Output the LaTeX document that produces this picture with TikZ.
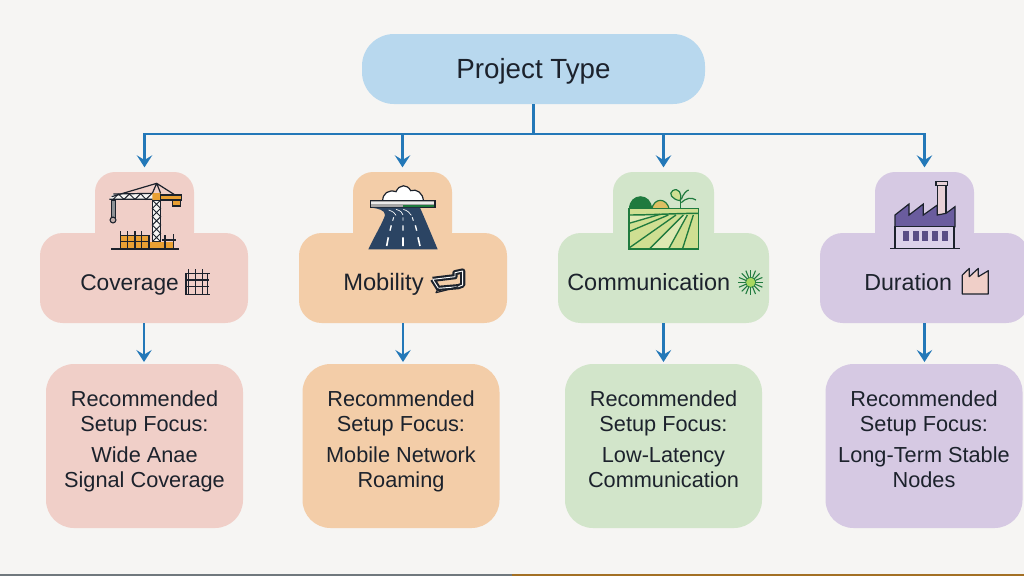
\documentclass[tikz,border=0pt]{standalone}
\usepackage{fontspec}
\setmainfont{Liberation Sans}
\definecolor{bgc}{HTML}{F6F5F3}
\definecolor{rootc}{HTML}{B8D8EE}
\definecolor{linec}{HTML}{2378B8}
\definecolor{pinkc}{HTML}{F0CFC8}
\definecolor{orc}{HTML}{F3CDA8}
\definecolor{grc}{HTML}{D2E5CA}
\definecolor{puc}{HTML}{D6C9E3}
\definecolor{ink}{HTML}{1C222C}
\definecolor{craneo}{HTML}{E9A033}
\definecolor{roadc}{HTML}{2B4463}
\definecolor{fieldd}{HTML}{1F7A3E}
\definecolor{fieldl}{HTML}{CFDF92}
\definecolor{sunc}{HTML}{A8D860}
\definecolor{facd}{HTML}{6A5C9E}
\definecolor{facl}{HTML}{DCD2EA}
\tikzset{
  rootbox/.style={draw=none,fill=rootc,rounded corners=24pt,inner sep=0pt,outer sep=0pt,minimum width=257.25pt,minimum height=52.5pt},
  roottext/.style={anchor=base,inner sep=0pt,text=ink,font=\fontsize{20.8}{24}\selectfont},
  tabbox/.style={draw=none,rounded corners=15pt,inner sep=0pt,outer sep=0pt,minimum width=74.25pt,minimum height=60pt},
  bodybox/.style={draw=none,rounded corners=17pt,inner sep=0pt,outer sep=0pt,minimum height=67.5pt},
  recbox/.style={draw=none,rounded corners=21pt,inner sep=0pt,outer sep=0pt,minimum width=147.75pt,minimum height=123pt},
  cardtext/.style={anchor=base west,inner sep=0pt,text=ink,font=\fontsize{#1}{20}\selectfont},
  rectext/.style={anchor=north,align=center,inner sep=0pt,text=ink,font=\fontsize{16.3}{18.75}\selectfont},
  conn/.style={draw=linec,line width=1.6pt},
  arr/.style={conn,-{Stealth[length=9pt,width=11.5pt,inset=3.5pt]}},
  icon/.style={x=0.25pt,y=-0.25pt},
}
\usetikzlibrary{arrows.meta}
\begin{document}
\begin{tikzpicture}[x=0.75pt,y=-0.75pt]
\useasboundingbox (0,0) rectangle (1024,576);
\clip (0,0) rectangle (1024,576);
\fill[bgc] (0,0) rectangle (1024,576);
\fill[black!70!cyan!40!gray] (0,574) rectangle (512,576);
\fill[craneo!70!black] (512,574) rectangle (1024,576);

\node[rootbox] (root) at (533.5,69) {};
\node[roottext] (rootlab) at (533.5,78.5) {Project Type};

% cards
\node[tabbox,fill=pinkc] (tabA) at (144.5,212) {};
\node[bodybox,fill=pinkc,minimum width=156pt] (bodyA) at (144,278) {};
\node[tabbox,fill=orc] (tabB) at (402.5,212) {};
\node[bodybox,fill=orc,minimum width=156pt] (bodyB) at (403,278) {};
\node[tabbox,fill=grc,minimum width=75.75pt] (tabC) at (663.5,212) {};
\node[bodybox,fill=grc,minimum width=158.25pt] (bodyC) at (663.5,278) {};
\node[tabbox,fill=puc] (tabD) at (924.5,212) {};
\node[bodybox,fill=puc,minimum width=156.75pt] (bodyD) at (924.5,278) {};

\node[cardtext=17.05] (labA) at (80,290) {Coverage};
\node[cardtext=17.8] (labB) at (343,290) {Mobility};
\node[cardtext=17.6] (labC) at (567,290) {Communication};
\node[cardtext=17.4] (labD) at (864,290) {Duration};

% recommended boxes
\node[recbox,fill=pinkc] (recA) at (144.5,446) {};
\node[recbox,fill=orc] (recB) at (401,446) {};
\node[recbox,fill=grc] (recC) at (663.5,446) {};
\node[recbox,fill=puc] (recD) at (924,446) {};
\node[rectext] (txtA) at (144.5,390) {Recommended\\Setup Focus:\\[4.5pt]Wide Anae\\Signal Coverage};
\node[rectext] (txtB) at (401,390) {Recommended\\Setup Focus:\\[4.5pt]Mobile Network\\Roaming};
\node[rectext] (txtC) at (663.5,390) {Recommended\\Setup Focus:\\[4.5pt]Low-Latency\\Communication};
\node[rectext] (txtD) at (924,390) {Recommended\\Setup Focus:\\[4.5pt]Long-Term Stable\\Nodes};

% connectors
\coordinate (bus) at (533.5,134);
\draw[conn] (root.south) -- (bus);
\draw[arr,shorten >=3.5pt] (bus) -| (tabA.north);
\draw[arr,shorten >=3.5pt] (bus) -| (tabB.north);
\draw[arr,shorten >=3.5pt] (bus) -| (tabC.north);
\draw[arr,shorten >=3.5pt] (bus) -| (tabD.north);
\draw[arr,shorten >=1.5pt] (bodyA.south) -- (bodyA.south |- recA.north);
\draw[arr,shorten >=1.5pt] (bodyB.south) -- (bodyB.south |- recB.north);
\draw[arr,shorten >=1.5pt] (bodyC.south) -- (bodyC.south |- recC.north);
\draw[arr,shorten >=1.5pt] (bodyD.south) -- (bodyD.south |- recD.north);

% crane
\begin{scope}[shift={(30,160)},icon]
  \fill[craneo] (270,226) rectangle (357,264);
  \fill[craneo] (357,247) rectangle (430,264);
  \draw[ink,line width=0.8pt] (270,226) -- (357,226) (270,245) -- (357,245) (395,240) -- (437,240);
  \draw[ink,line width=0.8pt] (272,214) -- (272,265) (293,214) -- (293,265) (315,214) -- (315,265) (335,214) -- (335,265) (357,226) -- (357,265) (405,225) -- (405,265) (430,222) -- (430,265);
  \fill[bgc] (367,120) rectangle (392,245);
  \draw[ink,line width=0.9pt] (367,120) rectangle (392,245);
  \draw[ink,line width=0.7pt] (367,120) -- (392,145) -- (367,170) -- (392,195) -- (367,220) -- (392,245)
     (392,120) -- (367,145) -- (392,170) -- (367,195) -- (392,220) -- (367,245);
  \fill[craneo] (367,100) rectangle (392,120);
  \fill[craneo] (392,105) rectangle (455,120);
  \fill[craneo] (427,120) rectangle (452,138);
  \draw[ink,line width=0.8pt] (392,105) rectangle (455,120) (427,120) rectangle (452,138);
  \fill[bgc] (250,102) -- (367,100) -- (367,118) -- (238,118) -- cycle;
  \draw[ink,line width=0.9pt] (250,102) -- (367,100) (238,118) -- (367,118);
  \draw[ink,line width=0.7pt] (250,118) -- (265,102) -- (282,118) -- (298,102) -- (315,118) -- (332,101) -- (348,118) -- (365,101);
  \draw[ink,line width=0.9pt] (245,110) -- (380,70) -- (435,105) (380,70) -- (367,100) (380,70) -- (392,100);
  \fill[ink!50] (244,120) rectangle (256,172);
  \draw[ink,line width=0.7pt] (244,120) rectangle (256,172);
  \draw[ink,line width=0.8pt,fill=pinkc!60!gray] (249,180) circle[radius=2.2pt];
  \draw[ink,line width=1.2pt] (243,267) -- (447,267);
\end{scope}

% road
\begin{scope}[shift={(290,160)},icon]
  \draw[ink,line width=0.9pt,fill=white] (278,123) .. controls (278,100) and (295,88) .. (318,95) .. controls (328,72) and (352,72) .. (362,92) .. controls (380,85) and (400,100) .. (400,123) -- cycle;
  \fill[black!35] (241,122) rectangle (435,143);
  \fill[fieldd] (340,134) rectangle (435,143);
  \fill[white!85!gray] (241,126) rectangle (435,133);
  \draw[ink,line width=0.8pt] (241,122) rectangle (435,143);
  \fill[roadc] (245,143) -- (390,143) .. controls (400,165) and (425,225) .. (443,268) -- (235,268) .. controls (255,225) and (280,185) .. (285,165) .. controls (285,150) and (265,146) .. (245,143) -- cycle;
  \draw[white,line width=1.2pt] (290,258) -- (295,232) (339,258) -- (339,232) (390,258) -- (384,232);
  \draw[white,line width=1pt] (300,212) -- (304,196) (339,212) -- (339,196) (380,212) -- (376,196);
  \draw[white,line width=0.7pt] (308,182) -- (311,172) (339,182) -- (339,172) (370,182) -- (367,172);
  \draw[white,line width=0.5pt] (296,150) .. controls (310,155) and (316,160) .. (318,166) (318,148) .. controls (332,152) and (338,158) .. (339,165) (340,148) .. controls (352,152) and (360,158) .. (364,166);
\end{scope}

% field
\begin{scope}[shift={(550,160)},icon]
  \fill[fieldd] (237,148) .. controls (237,95) and (305,95) .. (305,148) -- cycle;
  \draw[fieldd,line width=0.9pt,fill=craneo!50!fieldl] (305,148) .. controls (312,112) and (350,112) .. (358,148) -- cycle;
  \draw[fieldd,line width=1.2pt] (392,145) -- (392,110);
  \draw[fieldd,line width=0.9pt,fill=fieldl] (390,122) .. controls (365,118) and (355,100) .. (368,92) .. controls (385,82) and (398,100) .. (390,122) -- cycle;
  \draw[fieldd,line width=0.9pt] (394,118) .. controls (400,100) and (410,92) .. (416,90) (394,128) .. controls (410,112) and (425,112) .. (438,120);
  \fill[fieldl] (237,145) rectangle (445,267);
  \fill[fieldl!70!white] (237,190) -- (330,163) -- (237,165) -- cycle;
  \fill[fieldl!70!white] (300,265) -- (400,165) -- (412,165) -- (357,265) -- cycle;
  \draw[fieldd,line width=1.1pt] (237,165) .. controls (300,165) and (380,160) .. (445,160);
  \draw[fieldd,line width=1pt] (237,190) -- (330,163) (237,215) -- (355,165) (240,262) -- (378,165) (300,265) -- (400,165) (357,265) -- (412,165) (398,265) -- (430,165);
  \draw[fieldd,line width=1.2pt] (237,145) rectangle (445,267);
\end{scope}

% factory
\begin{scope}[shift={(810,160)},icon]
  \draw[ink,line width=0.9pt,fill=pinkc!60!facl] (382,75) rectangle (408,165);
  \draw[ink,line width=0.9pt,fill=pinkc!60!facl] (378,65) rectangle (412,76);
  \draw[ink,line width=0.9pt,fill=facd] (255,200) -- (255,165) -- (297,132) -- (297,165) -- (340,132) -- (340,165) -- (382,135) -- (382,165) -- (408,160) -- (435,140) -- (435,200) -- cycle;
  \draw[ink,line width=0.9pt,fill=facl] (255,200) rectangle (432,266);
  \foreach \xa in {278,308,337,366,395} \fill[facd!85!black] (\xa,212) rectangle ++(18,31);
  \draw[ink,line width=1.2pt] (240,266) -- (450,266);
\end{scope}

% small grid
\begin{scope}[shift={(30,160)},icon]
  \draw[ink,line width=0.8pt] (475,328) -- (475,403) (497,328) -- (497,403) (517,328) -- (517,403) (465,340) -- (540,340) (468,360) -- (538,360) (468,380) -- (538,380);
  \draw[ink,line width=0.8pt] (468,340) -- (468,403) (533,340) -- (533,403);
  \draw[ink,line width=1.1pt] (465,403) -- (540,403);
\end{scope}

% small trolley
\begin{scope}[shift={(290,160)},icon]
  \draw[ink,line width=1.6pt,double=white,double distance=0.7pt,line join=round] (428,358) -- (495,350) -- (495,338) -- (518,333) -- (518,375) -- (505,380) -- (445,385) -- (428,358);
  \draw[ink,line width=0.9pt,line join=round] (445,385) -- (438,398) -- (462,392) -- (505,380);
\end{scope}

% small sun
\begin{scope}[shift={(550,160)},icon]
  \foreach \ang in {0,22.5,...,337.5}
    \draw[fieldd,line width=0.8pt] (602,367) ++(\ang:15) -- ++(\ang:23);
  \draw[fieldd,line width=0.5pt,fill=sunc] (602,367) circle[radius=3.8pt];
\end{scope}

% small factory
\begin{scope}[shift={(810,160)},icon]
  \draw[ink,line width=0.9pt,fill=pinkc,line join=round] (457,402) -- (457,345) -- (478,325) -- (478,350) -- (505,325) -- (505,350) -- (535,332) -- (535,402) -- cycle;
\end{scope}
\end{tikzpicture}
\end{document}
